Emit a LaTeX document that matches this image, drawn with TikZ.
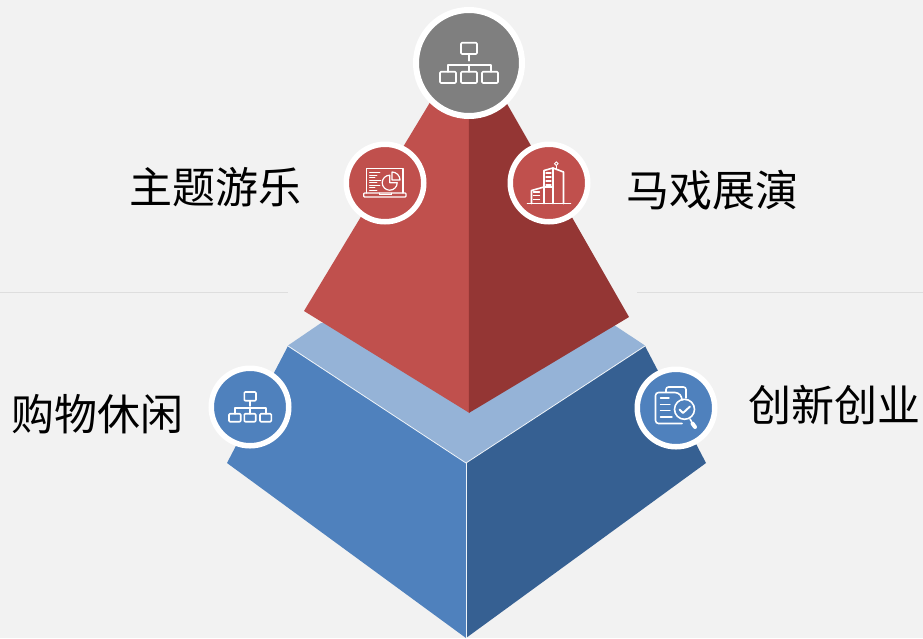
\documentclass[tikz,border=0pt]{standalone}
\usepackage{fontspec}
\newfontfamily\cjkfont{Noto Sans CJK SC}
\definecolor{bgc}{HTML}{F2F2F2}
\definecolor{rulec}{HTML}{DEDEDE}
\definecolor{redL}{HTML}{C0504D}
\definecolor{redD}{HTML}{943634}
\definecolor{blueL}{HTML}{4F81BD}
\definecolor{blueD}{HTML}{366092}
\definecolor{blueP}{HTML}{95B3D7}
\definecolor{greyc}{HTML}{7F7F7F}
\tikzset{
  x=1pt,y=-1pt,
  bigdisc/.style={circle,draw=white,line width=6pt,inner sep=0pt,minimum size=106pt},
  smalldisc/.style={circle,draw=white,line width=5.5pt,inner sep=0pt,minimum size=77.5pt},
  label/.style={inner sep=0pt,text=black,font=\cjkfont\fontsize{43}{50}\selectfont},
  icon/.style={draw=white,line width=1.6pt,line join=round,line cap=round},
  iconmid/.style={draw=white,line width=1.2pt,line join=round,line cap=round},
  iconthin/.style={draw=white,line width=0.9pt,line cap=round},
  edgeline/.style={draw=white!85!blueP,line width=0.8pt}
}
\newcommand{\orglarge}{%
  \draw[icon,rounded corners=1pt] (-8,-20.3) rectangle (8,-9);
  \draw[icon] (0,-9) -- (0,-2.3);
  \draw[icon] (-21,8.7) -- (-21,1.7) -- (22,1.7) -- (22,8.7);
  \draw[icon] (0,1.7) -- (0,8.7);
  \foreach \a/\b in {-29/-13,-8/8,13/29}
    \draw[icon,rounded corners=1pt] (\a,8.7) rectangle (\b,20);
}
\newcommand{\orgsmall}{%
  \draw[icon,rounded corners=1pt] (-5.7,-15) rectangle (6,-6.3);
  \draw[icon] (0,-6.3) -- (0,-1);
  \draw[icon] (-15,6.7) -- (-15,1) -- (16,1) -- (16,6.7);
  \draw[icon] (0,1) -- (0,6.7);
  \foreach \a/\b in {-21/-9.3,-5.7/5.7,10/21.3}
    \draw[icon,rounded corners=1pt] (\a,6.7) rectangle (\b,14.7);
}
\newcommand{\laptopicon}{%
  \draw[iconmid] (-18.7,10) -- (-18.7,-14.7) -- (18,-14.7) -- (18,10);
  \draw[iconmid,rounded corners=0.8pt] (-21.3,10) rectangle (21,14);
  \draw[iconthin] (-6,10) -- (-6,11.5) -- (6,11.5) -- (6,10);
  \draw[iconmid] (4.7,-7.8) arc[start angle=-90,end angle=-360,radius=7.5] -- (4.7,-0.3) -- cycle;
  \draw[iconmid] (7,-3) -- (7,-11) arc[start angle=-90,end angle=0,radius=8] -- cycle;
  \foreach \yy/\e in {-10.5/-5,-8/-8,-5.5/-10,-3/-4,-0.5/-8,2/-5,4.5/-10,7/-8}
    \draw[iconthin] (-15.5,\yy) -- (\e,\yy);
}
\newcommand{\towericon}{%
  \draw[icon] (-21.5,20.5) -- (21.5,20.5);
  \draw[icon] (-5,20.5) -- (-5,-12.5) -- (4,-15) -- (14.5,-11) -- (14.5,20.5);
  \draw[icon] (4,-15) -- (4,20.5);
  \draw[icon] (-17.5,20.5) -- (-17.5,7.5) -- (-5,4) -- (4,4);
  \draw[iconmid] (7.3,-13.5) -- (7.3,-17.5);
  \draw[iconthin] (7.3,-19.3) circle[radius=1.8];
  \foreach \yy in {-10,-6,-2,2} \draw[iconthin,line width=1.3pt] (-3,\yy) -- (2,\yy);
  \foreach \yy in {9,12.5,16.5} \draw[iconthin,line width=1.3pt] (-15.5,\yy) -- (-9.5,\yy);
}
\newcommand{\docicon}{%
  \draw[icon,rounded corners=2.5pt] (-10,-16) -- (-10,-21) -- (10,-21) -- (10,-10);
  \draw[icon,rounded corners=3pt] (6,15.5) -- (-20.5,15.5) -- (-20.5,-15.5) -- (2,-15.5) -- (6,-11) -- (6,-9);
  \foreach \yy/\e in {-10/-7,-3.5/-6,2.7/-6,9/-4} \draw[iconthin,line width=1.4pt] (-15.5,\yy) -- (\e,\yy);
  \draw[icon] (8.5,1.3) circle[radius=10];
  \draw[icon,line width=1.9pt] (3.5,1.5) -- (7,5) -- (14,-1.5);
  \draw[icon] (14,11) -- (15.5,13.5);
  \draw[draw=white,line width=4pt,line cap=round] (16.5,15.5) -- (19,19);
}
\begin{document}
\begin{tikzpicture}
\useasboundingbox (0,0) rectangle (923,638);
\fill[bgc] (0,0) rectangle (923,638);
\draw[rulec,line width=1pt] (0,292) -- (288,292);
\draw[rulec,line width=1pt] (637,292) -- (923,292);
% lower pyramid
\fill[blueP] (288,345.5) -- (321,323) -- (614,325) -- (645,345.5) -- (466,463) -- cycle;
\fill[blueL] (288,346) -- (466,463) -- (466,638) -- (227,463) -- cycle;
\fill[blueD] (645,346) -- (466,463) -- (466,638) -- (706,463) -- cycle;
\draw[edgeline] (288,346) -- (466,463) -- (645,346);
\draw[edgeline] (466,463) -- (466,638);
% upper pyramid
\fill[redL] (469.5,37) -- (304,311) -- (469.5,413) -- cycle;
\fill[redD] (468.8,37) -- (629,317) -- (468.8,413) -- cycle;
% discs
\node[bigdisc,fill=greyc] (top) at (469,63) {};
\node[smalldisc,fill=redL] (redleft) at (385,183) {};
\node[smalldisc,fill=redL] (redright) at (549,183) {};
\node[smalldisc,fill=blueL] (blueleft) at (250,407) {};
\node[smalldisc,fill=blueL] (blueright) at (676,408) {};
% icons
\begin{scope}[shift={(top.center)}]\orglarge\end{scope}
\begin{scope}[shift={(redleft.center)}]\laptopicon\end{scope}
\begin{scope}[shift={(redright.center)}]\towericon\end{scope}
\begin{scope}[shift={(blueleft.center)}]\orgsmall\end{scope}
\begin{scope}[shift={(blueright.center)}]\docicon\end{scope}
% labels
\node[label] (l1) at (215,187) {主题游乐};
\node[label] (l2) at (712,190) {马戏展演};
\node[label] (l3) at (97,414) {购物休闲};
\node[label] (l4) at (834,405) {创新创业};
\end{tikzpicture}
\end{document}
